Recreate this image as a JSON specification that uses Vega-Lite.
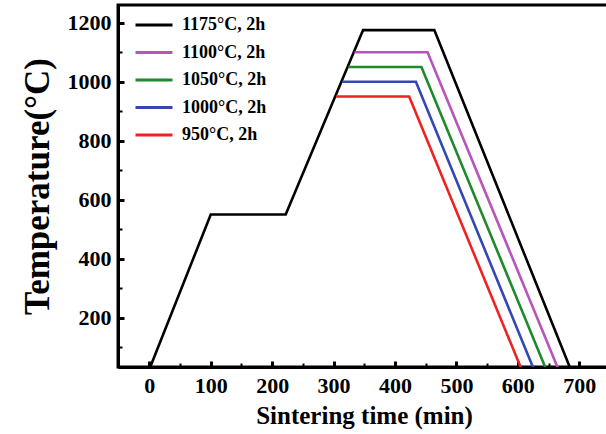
{
  "$schema": "https://vega.github.io/schema/vega-lite/v6.json",
  "width": 492,
  "height": 362,
  "autosize": {"type": "none"},
  "padding": {"left": 118, "top": 5, "right": 0, "bottom": 67},
  "background": "white",
  "config": {
    "view": {"stroke": "black", "strokeWidth": 3},
    "font": "Liberation Serif"
  },
  "data": {
    "values": [
      {"series": "1175°C, 2h", "t": 0, "T": 25, "i": 0},
      {"series": "1175°C, 2h", "t": 100, "T": 550, "i": 1},
      {"series": "1175°C, 2h", "t": 222, "T": 550, "i": 2},
      {"series": "1175°C, 2h", "t": 348, "T": 1175, "i": 3},
      {"series": "1175°C, 2h", "t": 464, "T": 1175, "i": 4},
      {"series": "1175°C, 2h", "t": 686, "T": 25, "i": 5},
      {"series": "1100°C, 2h", "t": 334, "T": 1100, "i": 0},
      {"series": "1100°C, 2h", "t": 453, "T": 1100, "i": 1},
      {"series": "1100°C, 2h", "t": 666, "T": 25, "i": 2},
      {"series": "1050°C, 2h", "t": 324, "T": 1050, "i": 0},
      {"series": "1050°C, 2h", "t": 443, "T": 1050, "i": 1},
      {"series": "1050°C, 2h", "t": 646, "T": 25, "i": 2},
      {"series": "1000°C, 2h", "t": 314, "T": 1000, "i": 0},
      {"series": "1000°C, 2h", "t": 434, "T": 1000, "i": 1},
      {"series": "1000°C, 2h", "t": 626, "T": 25, "i": 2},
      {"series": "950°C, 2h", "t": 304, "T": 950, "i": 0},
      {"series": "950°C, 2h", "t": 423, "T": 950, "i": 1},
      {"series": "950°C, 2h", "t": 606, "T": 25, "i": 2}
    ]
  },
  "mark": {"type": "line", "strokeWidth": 2.6, "clip": true},
  "encoding": {
    "x": {
      "field": "t",
      "type": "quantitative",
      "scale": {"domain": [-51, 750], "nice": false, "zero": false},
      "axis": {
        "values": [0, 50, 100, 150, 200, 250, 300, 350, 400, 450, 500, 550, 600, 650, 700],
        "format": "d",
        "labelExpr": "datum.value % 100 === 0 ? datum.label : ''",
        "title": "Sintering time (min)",
        "titleFont": "Liberation Serif",
        "titleFontSize": 25,
        "titleFontWeight": "bold",
        "titleColor": "black",
        "titlePadding": 7,
        "labelFont": "Liberation Serif",
        "labelFontSize": 22,
        "labelFontWeight": "bold",
        "labelColor": "black",
        "labelPadding": 14,
        "labelFlush": false,
        "grid": false,
        "domainColor": "black",
        "domainWidth": 3,
        "tickColor": "black",
        "tickSize": {"condition": {"test": "datum.value % 100 === 0", "value": -6}, "value": -4},
        "tickWidth": {"condition": {"test": "datum.value % 100 === 0", "value": 3}, "value": 2}
      }
    },
    "y": {
      "field": "T",
      "type": "quantitative",
      "scale": {"domain": [33, 1260], "nice": false, "zero": false},
      "axis": {
        "values": [100, 200, 300, 400, 500, 600, 700, 800, 900, 1000, 1100, 1200],
        "format": "d",
        "labelExpr": "datum.value % 200 === 0 ? datum.label : ''",
        "title": "Temperature(°C)",
        "titleFont": "Liberation Serif",
        "titleFontSize": 35,
        "titleFontWeight": "bold",
        "titleColor": "black",
        "titlePadding": 12,
        "labelFont": "Liberation Serif",
        "labelFontSize": 22,
        "labelFontWeight": "bold",
        "labelColor": "black",
        "labelPadding": 13,
        "labelFlush": false,
        "grid": false,
        "domainColor": "black",
        "domainWidth": 3,
        "tickColor": "black",
        "tickSize": {"condition": {"test": "datum.value % 200 === 0", "value": -6}, "value": -4},
        "tickWidth": {"condition": {"test": "datum.value % 200 === 0", "value": 3}, "value": 2}
      }
    },
    "color": {
      "field": "series",
      "type": "nominal",
      "scale": {
        "domain": ["1175°C, 2h", "1100°C, 2h", "1050°C, 2h", "1000°C, 2h", "950°C, 2h"],
        "range": ["#000000", "#b855b8", "#1f8a2c", "#3447b4", "#ee2222"]
      },
      "legend": {
        "title": null,
        "orient": "none",
        "legendX": 16,
        "legendY": 12,
        "symbolType": "stroke",
        "symbolSize": 1369,
        "symbolStrokeWidth": 3,
        "clipHeight": 16,
        "rowPadding": 9.5,
        "labelOffset": 8,
        "labelFont": "Liberation Serif",
        "labelFontSize": 18,
        "labelFontWeight": "bold",
        "labelColor": "black"
      }
    },
    "order": {"field": "i", "type": "quantitative"}
  }
}
